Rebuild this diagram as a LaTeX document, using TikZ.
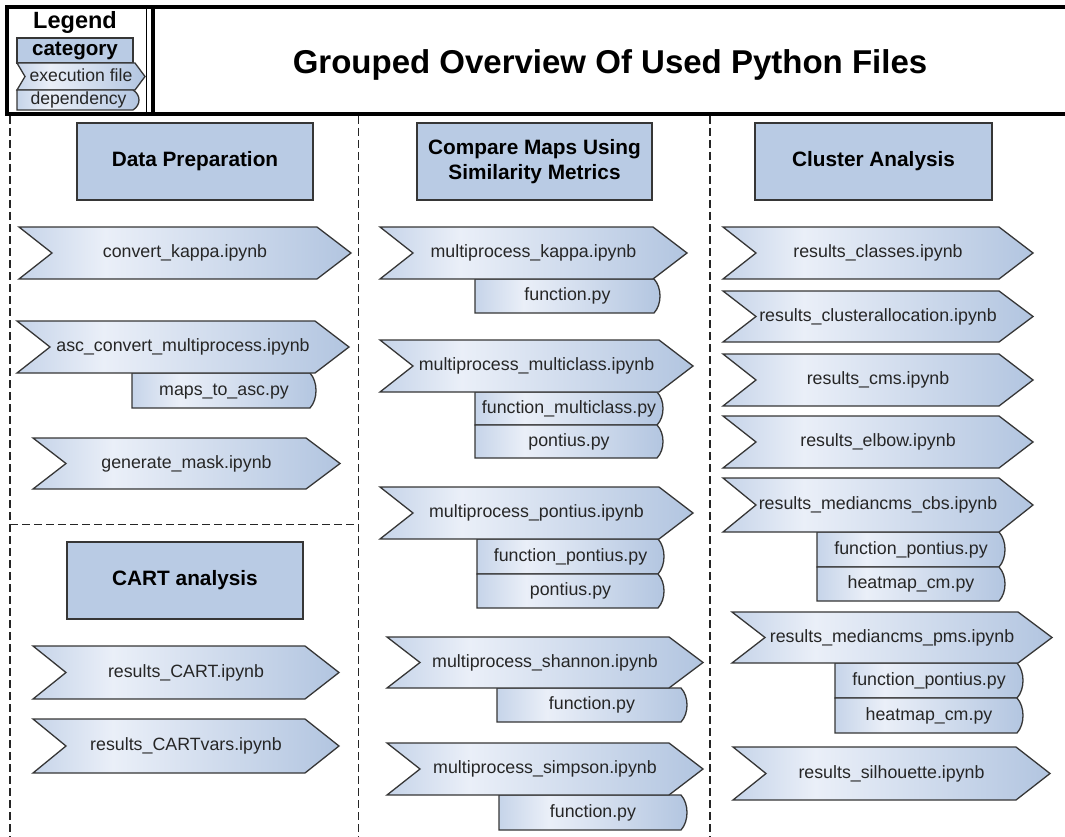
\documentclass[tikz,border=0pt]{standalone}
\usepackage{fontspec}
\setmainfont{Liberation Sans}

\definecolor{shA}{HTML}{C6D4E9}
\definecolor{shB}{HTML}{EAEFF8}
\definecolor{shC}{HTML}{B2C5E0}
\definecolor{catfill}{HTML}{B9CBE4}
\definecolor{edge}{HTML}{363636}
\definecolor{txt}{HTML}{262626}

% light-to-blue fill used by execution files and dependencies
\pgfdeclarehorizontalshading{fileshade}{100bp}{color(0bp)=(shA); color(25bp)=(shA); color(38bp)=(shB); color(75bp)=(shC); color(100bp)=(shC)}

\tikzset{
  fileshape/.style={draw=edge, line width=1.3pt, line join=miter, shade, shading=fileshade},
  filetext/.style={inner sep=0pt, text=txt, text height=13pt, text depth=3.7pt,
                   font=\fontsize{17.8}{20}\selectfont},
  catbox/.style={draw=edge, line width=1.5pt, fill=catfill, inner sep=0pt, align=center,
                 font=\bfseries\fontsize{20.8}{25}\selectfont},
  divider/.style={draw=black!85, line width=1.2pt, dash pattern=on 8pt off 4pt},
  frame/.style={draw=black, line width=3.5pt},
}

% execution file: name, left x, top y, right x, bottom y, label
\newcommand\execfile[6]{%
  \path[fileshape] (#2,#3) -- (#4-34,#3) -- (#4,{(#3+#5)/2}) -- (#4-34,#5) -- (#2,#5)
        -- (#2+33,{(#3+#5)/2}) -- cycle;
  \node[filetext] (#1) at ({(#2+#4)/2},{(#3+#5)/2}) {#6};
}
% dependency: name, left x, top y, right x (straight part), bottom y, label
\newcommand\depfile[6]{%
  \path[fileshape] (#2,#3) -- (#4,#3)
        .. controls (#4+8,{#3+(#5-#3)*0.25}) and (#4+8,{#5-(#5-#3)*0.25}) .. (#4,#5)
        -- (#2,#5) -- cycle;
  \node[filetext] (#1) at ({(#2+#4+6)/2},{(#3+#5)/2}) {#6};
}

\begin{document}
\begin{tikzpicture}[x=1pt,y=-1pt]
\useasboundingbox (0,0) rectangle (1065,837);
\fill[white] (0,0) rectangle (1065,837);

% header: legend cell and title cell
\draw[line width=1pt] (146,7) -- (146,114);
\draw[frame] (7,7) rectangle (1080,114);
\draw[line width=4pt] (152.5,7) -- (152.5,114);
\node[font=\bfseries\fontsize{33}{40}\selectfont, text height=23.6pt, text depth=0pt, inner sep=0pt]
  (title) at (610,62) {Grouped Overview Of Used Python Files};

\node[font=\bfseries\fontsize{23.5}{28}\selectfont, text height=16.8pt, text depth=0pt, inner sep=0pt]
  (legend) at (75,20) {Legend};
\node[catbox, minimum width=116pt, minimum height=25pt, font=\bfseries\fontsize{20.6}{24}\selectfont]
  (lcat) at (75,50.5) {category};
\path[fileshape] (17,63) -- (135,63) -- (145,76.5) -- (135,90) -- (17,90) -- (25,76.5) -- cycle;
\node[filetext, font=\fontsize{17.6}{20}\selectfont] (lexec) at (81,76.5) {execution file};
\path[fileshape] (17,90) -- (133,90) .. controls (141,95) and (141,105) .. (133,110) -- (17,110) -- cycle;
\node[filetext, font=\fontsize{17.6}{20}\selectfont] (ldep) at (78.5,100) {dependency};

% column separators
\draw[divider] (10,116) -- (10,837);
\draw[divider] (358.5,116) -- (358.5,837);
\draw[divider] (710,116) -- (710,837);
\draw[divider] (10,524.5) -- (358.5,524.5);

% categories
\node[catbox, minimum width=236pt, minimum height=77pt] (dataprep) at (195,161.5) {Data Preparation};
\node[catbox, minimum width=235pt, minimum height=77pt] (compare) at (534.5,161.5) {Compare Maps Using\\Similarity Metrics};
\node[catbox, minimum width=237pt, minimum height=77pt] (cluster) at (873.5,161.5) {Cluster Analysis};
\node[catbox, minimum width=236pt, minimum height=77pt] (cart) at (185,580.5) {CART analysis};

% data preparation
\execfile{convkappa}{19}{227}{351}{279}{convert\_kappa.ipynb}
\depfile{mapstoasc}{132}{373}{310}{408}{maps\_to\_asc.py}
\execfile{ascconv}{17}{321}{349}{373}{asc\_convert\_multiprocess.ipynb}
\execfile{genmask}{33}{438}{340}{489}{generate\_mask.ipynb}

% CART analysis
\execfile{rescart}{33}{646}{339}{699}{results\_CART.ipynb}
\execfile{rescartvars}{33}{719}{339}{773}{results\_CARTvars.ipynb}

% similarity metrics
\depfile{kfunc}{475}{279}{654}{313}{function.py}
\execfile{mpkappa}{380}{227}{687}{279}{multiprocess\_kappa.ipynb}
\depfile{mcfunc}{475}{392}{657}{425}{function\_multiclass.py}
\depfile{mcpont}{475}{425}{657}{458}{pontius.py}
\execfile{mpmulti}{380}{340}{693}{392}{multiprocess\_multiclass.ipynb}
\depfile{pfunc}{477}{539}{658}{574}{function\_pontius.py}
\depfile{ppont}{477}{574}{658}{608}{pontius.py}
\execfile{mppont}{380}{487}{693}{539}{multiprocess\_pontius.ipynb}
\depfile{shfunc}{497}{688}{681}{722}{function.py}
\execfile{mpshan}{387}{637}{703}{688}{multiprocess\_shannon.ipynb}
\depfile{sifunc}{499}{795}{681}{830}{function.py}
\execfile{mpsimp}{387}{743}{703}{795}{multiprocess\_simpson.ipynb}

% cluster analysis
\execfile{rclasses}{723}{227}{1033}{279}{results\_classes.ipynb}
\execfile{rcalloc}{723}{291}{1033}{342}{results\_clusterallocation.ipynb}
\execfile{rcms}{723}{354}{1033}{406}{results\_cms.ipynb}
\execfile{relbow}{723}{416}{1033}{468}{results\_elbow.ipynb}
\depfile{cbsfunc}{817}{532}{999}{567}{function\_pontius.py}
\depfile{cbsheat}{817}{567}{999}{601}{heatmap\_cm.py}
\execfile{rcbs}{723}{478}{1033}{532}{results\_mediancms\_cbs.ipynb}
\depfile{pmsfunc}{835}{663}{1017}{698}{function\_pontius.py}
\depfile{pmsheat}{835}{698}{1017}{733}{heatmap\_cm.py}
\execfile{rpms}{732}{612}{1052}{663}{results\_mediancms\_pms.ipynb}
\execfile{rsil}{733}{747}{1050}{800}{results\_silhouette.ipynb}
\end{tikzpicture}
\end{document}
